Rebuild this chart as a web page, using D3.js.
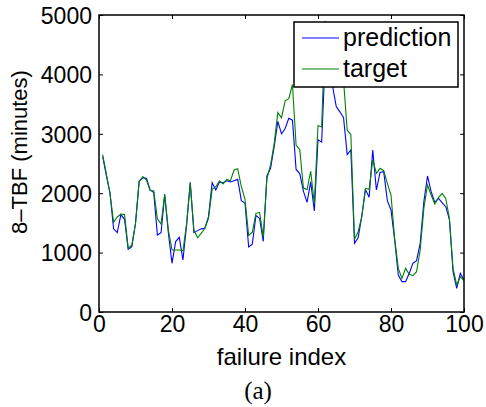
<!DOCTYPE html>
<html>
<head>
<meta charset="utf-8">
<script src="https://cdn.jsdelivr.net/npm/d3@7"></script>
<style>
  html, body { margin: 0; padding: 0; background: #fff; }
  svg { display: block; }
  text { font-family: "Liberation Sans", Arial, Helvetica, sans-serif; fill: #000; }
</style>
</head>
<body>
<svg id="chart" width="486" height="407"></svg>
<script>
const xTicks = [0, 20, 40, 60, 80, 100];
const yTicks = [0, 1000, 2000, 3000, 4000, 5000];
const seriesNames = ["prediction", "target"];
const seriesColors = ["#0000ff", "#008000"];

const prediction = [
  2620, 2300, 2010, 1400, 1335, 1640, 1560, 1055, 1100, 1490,
  2205, 2260, 2250, 2055, 2010, 1295, 1335, 1970, 1335, 820,
  1185, 1257, 875, 1465, 2183, 1335, 1370, 1400, 1410, 1605,
  2177, 2054, 2188, 2177, 2210, 2188, 2210, 2233, 1874, 1830,
  1095, 1140, 1625, 1575, 1190, 2290, 2419, 2783, 3210, 3000,
  3090, 3260, 3230, 2400, 2330, 2035, 1845, 2190, 1700, 2900,
  2860, 4300, 4500, 3800, 3460, 3370, 3270, 2650, 2727, 1156,
  1251, 1616, 2065, 1930, 2727, 2054, 2351, 2362, 1874, 1717,
  1212, 623, 511, 511, 651, 820, 864, 1156, 1857, 2290,
  2026, 1846, 1913, 1840, 1773, 1560, 679, 398, 651, 539
];
const target = [
  2650, 2330, 2000, 1510, 1600, 1650, 1640, 1075, 1130, 1490,
  2195, 2280, 2220, 2045, 2040, 1570, 1480, 1985, 1380, 1045,
  1045, 1045, 1030, 1490, 2165, 1380, 1250, 1325, 1410, 1577,
  2065, 2110, 2210, 2155, 2233, 2210, 2390, 2413, 2110, 1897,
  1290, 1345, 1661, 1678, 1260, 2240, 2475, 2840, 3360, 3270,
  3555, 3590, 3830, 2805, 2735, 2090, 2060, 2370, 1820, 3140,
  3115, 4900, 4550, 4200, 4000, 4050, 3900, 3060, 2990, 1223,
  1352, 1605, 2082, 2065, 2559, 2334, 2419, 2379, 2166, 1970,
  1240, 735, 567, 735, 634, 612, 679, 1044, 1745, 2138,
  1970, 1818, 1925, 1997, 1913, 1577, 735, 455, 595, 528
];

const svg = d3.select("#chart");
const L = 99, R = 464, T = 15, B = 312;
const x = d3.scaleLinear().domain([0, 100]).range([L, R]);
const y = d3.scaleLinear().domain([0, 5000]).range([B, T]);
const FS = 23;

svg.append("rect").attr("width", 486).attr("height", 407).attr("fill", "#fff");

// lines
const line = d3.line().x((d, i) => x(i + 1)).y(d => y(d));
[prediction, target].forEach((s, k) => {
  svg.append("path").datum(s)
    .attr("d", line)
    .attr("fill", "none")
    .attr("stroke", seriesColors[k])
    .attr("stroke-width", 1.1);
});

// axes (ticks inward)
const gx = svg.append("g").attr("transform", `translate(0,${B})`)
  .call(d3.axisBottom(x).tickValues(xTicks).tickSizeInner(-4).tickSizeOuter(0).tickFormat(d3.format("d")));
const gxTop = svg.append("g").attr("transform", `translate(0,${T})`)
  .call(d3.axisTop(x).tickValues(xTicks).tickSizeInner(-4).tickSizeOuter(0).tickFormat(""));
const gy = svg.append("g").attr("transform", `translate(${L},0)`)
  .call(d3.axisLeft(y).tickValues(yTicks).tickSizeInner(-4).tickSizeOuter(0).tickFormat(d3.format("d")));
const gyR = svg.append("g").attr("transform", `translate(${R},0)`)
  .call(d3.axisRight(y).tickValues(yTicks).tickSizeInner(-4).tickSizeOuter(0).tickFormat(""));
[gx, gxTop, gy, gyR].forEach(g => {
  g.select(".domain").remove();
  g.selectAll(".tick line").attr("stroke", "#000").attr("stroke-width", 1);
});
gx.selectAll(".tick text").attr("y", 20).attr("dy", 0)
  .style("font-size", FS + "px").style("font-family", "Liberation Sans, Arial, sans-serif");
gy.selectAll(".tick text").attr("x", -7).attr("dy", "0.36em")
  .style("font-size", FS + "px").style("font-family", "Liberation Sans, Arial, sans-serif");

// box
svg.append("rect").attr("x", L).attr("y", T).attr("width", R - L).attr("height", B - T)
  .attr("fill", "none").attr("stroke", "#000").attr("stroke-width", 1.5);

// labels
svg.append("text").attr("x", (L + R) / 2 - 0).attr("y", 365)
  .attr("text-anchor", "middle").style("font-size", "24px").text("failure index");
svg.append("text").attr("transform", `translate(27,152) rotate(-90)`)
  .attr("text-anchor", "middle").style("font-size", "22px").text("8–TBF (minutes)");
svg.append("text").attr("x", 258).attr("y", 399)
  .attr("text-anchor", "middle").style("font-family", "'Liberation Serif', 'DejaVu Serif', serif")
  .style("font-size", "25px").text("(a)");

// legend
const lg = svg.append("g");
lg.append("rect").attr("x", 294).attr("y", 22).attr("width", 164).attr("height", 65)
  .attr("fill", "#fff").attr("stroke", "#000").attr("stroke-width", 1.5);
const ly = [38, 69];
seriesNames.forEach((n, k) => {
  lg.append("line").attr("x1", 302).attr("x2", 339).attr("y1", ly[k]).attr("y2", ly[k])
    .attr("stroke", seriesColors[k]).attr("stroke-width", 1.1);
  lg.append("text").attr("x", 343).attr("y", ly[k] + 8).style("font-size", "25px").text(n);
});
</script>
</body>
</html>
